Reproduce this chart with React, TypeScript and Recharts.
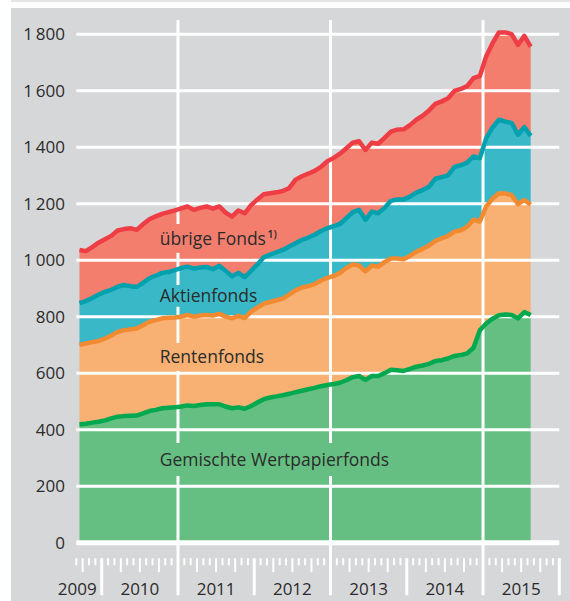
import React from 'react';
import {
  ComposedChart,
  Area,
  Line,
  XAxis,
  YAxis,
  ReferenceLine,
  ReferenceArea,
} from 'recharts';

// Vermögen der Investmentfonds nach Fondsart, Mrd Euro
// Monatswerte von September 2009 bis August 2015

const FONT = "'Open Sans', 'Noto Sans', sans-serif";
const TEXT = '#2b2b2b';
const PANEL = '#d6d7d9';

const START_YEAR = 2009;
const START_MONTH = 9; // erster Monatswert
const AXIS_MONTHS = 76; // Achse bis Ende 2015
const FIRST_JAN = 13 - START_MONTH; // Index des 1. Januar 2010

const years = ['2009', '2010', '2011', '2012', '2013', '2014', '2015'];
const gridYears = [2011, 2013, 2015];
const yTicks = [0, 200, 400, 600, 800, 1000, 1200, 1400, 1600, 1800];

const gemischte = [
  419, 421, 425, 428, 433, 440, 446, 448, 449, 450, 458, 466,
  470, 476, 478, 479, 482, 486, 484, 487, 490, 490, 490, 482,
  476, 479, 474, 484, 496, 508, 514, 518, 522, 527, 533, 538,
  543, 548, 554, 558, 562, 566, 575, 586, 590, 576, 590, 590,
  600, 612, 610, 608, 615, 623, 627, 633, 643, 646, 652, 661,
  664, 670, 690, 752, 776, 793, 805, 808, 806, 794, 816, 806,
];
const renten = [
  281, 284, 285, 286, 289, 293, 300, 304, 306, 308, 312, 316,
  318, 318, 318, 318, 318, 320, 316, 317, 316, 314, 320, 318,
  318, 324, 321, 334, 336, 338, 338, 340, 342, 351, 360, 365,
  365, 367, 374, 379, 382, 389, 397, 399, 391, 384, 391, 387,
  393, 394, 396, 395, 400, 407, 413, 419, 425, 431, 434, 440,
  442, 448, 453, 385, 414, 425, 432, 428, 424, 404, 397, 390,
];
const aktien = [
  148, 150, 156, 164, 166, 162, 160, 160, 153, 147, 150, 154,
  157, 161, 162, 168, 172, 171, 170, 170, 170, 164, 170, 162,
  149, 152, 145, 144, 153, 164, 168, 170, 172, 170, 167, 169,
  172, 175, 175, 176, 176, 173, 177, 185, 197, 183, 191, 189,
  192, 204, 209, 212, 210, 209, 208, 208, 220, 217, 214, 229,
  230, 227, 224, 224, 242, 252, 260, 254, 256, 246, 258, 244,
];
const uebrige = [
  188, 177, 180, 184, 186, 191, 199, 198, 205, 202, 207, 209,
  210, 209, 212, 211, 211, 213, 208, 211, 214, 214, 210, 206,
  211, 221, 226, 233, 230, 223, 217, 212, 209, 207, 225, 225,
  226, 226, 227, 237, 242, 249, 247, 246, 243, 247, 244, 246,
  248, 245, 247, 248, 253, 258, 263, 270, 265, 268, 273, 269,
  270, 271, 277, 291, 290, 298, 309, 316, 314, 318, 323, 316,
];

const colors = {
  gemischte: { fill: '#66bf82', line: '#00a94f' },
  renten: { fill: '#f8b173', line: '#f28a32' },
  aktien: { fill: '#39b9c7', line: '#00a1ae' },
  uebrige: { fill: '#f37e6d', line: '#ee3d45' },
};

const monthName = (i: number) => {
  const m = START_MONTH - 1 + i;
  return `${START_YEAR + Math.floor(m / 12)}-${String((m % 12) + 1).padStart(2, '0')}`;
};

const rows = gemischte.map((g, i) => {
  const rTop = g + renten[i];
  const aTop = rTop + aktien[i];
  const uTop = aTop + uebrige[i];
  return {
    t: i + 0.5,
    month: monthName(i),
    gemischte: g,
    renten: renten[i],
    aktien: aktien[i],
    uebrige: uebrige[i],
    gTop: g,
    rTop,
    aTop,
    uTop,
  };
});

const monthTicks = Array.from({ length: AXIS_MONTHS + 1 }, (_, i) => i);
const gridMonths = gridYears.map((yr) => FIRST_JAN + (yr - (START_YEAR + 1)) * 12);

// Beschriftungen in den Flächen (Kasten in Flächenfarbe unterbricht das Gitter)
const areaLabels = [
  { text: 'übrige Fonds', sup: '1)', t1: 12.5, t2: 31.6, v1: 1026, v2: 1128, fill: colors.uebrige.fill },
  { text: 'Aktienfonds', t1: 12.5, t2: 28.7, v1: 835, v2: 912, fill: colors.aktien.fill },
  { text: 'Rentenfonds', t1: 12.5, t2: 29.7, v1: 608, v2: 707, fill: colors.renten.fill },
  { text: 'Gemischte Wertpapierfonds', t1: 12.5, t2: 49.4, v1: 236, v2: 353, fill: colors.gemischte.fill },
];

const formatY = (v: number) =>
  v >= 1000 ? `${Math.floor(v / 1000)}\u2009${String(v % 1000).padStart(3, '0')}` : String(v);

const MonthTick = (props: any) => {
  const { x, y, payload } = props;
  const m: number = payload.value;
  const k = m - FIRST_JAN;
  const isYear = k % 12 === 0;
  const isQuarter = k % 3 === 0;
  const y1 = gridMonths.includes(m) ? y : y + 15.5;
  const y2 = isYear ? y + 52.5 : isQuarter ? y + 29.5 : y + 22.5;
  let label = null;
  if (m === FIRST_JAN) {
    label = (
      <text x={x - 5} y={y + 52.3} textAnchor="end" fill={TEXT} fontSize={17} fontFamily={FONT}>
        {years[0]}
      </text>
    );
  } else if (k > 0 && (k - 6) % 12 === 0) {
    label = (
      <text x={x} y={y + 52.3} textAnchor="middle" fill={TEXT} fontSize={17} fontFamily={FONT}>
        {years[(k - 6) / 12 + 1]}
      </text>
    );
  }
  return (
    <g>
      <line x1={x} x2={x} y1={y1} y2={y2} stroke="#fff" strokeWidth={isYear ? 3 : 2} />
      {label}
    </g>
  );
};

const labelShape = (lab: (typeof areaLabels)[number]) => (props: any) => {
  const { x, y, width, height } = props;
  const base = y + height / 2 + 6.3;
  return (
    <g>
      <rect x={x} y={y} width={width} height={height} fill={lab.fill} />
      <text x={x + 4} y={base} fill={TEXT} fontSize={17.5} fontFamily={FONT}>
        <tspan>{lab.text}</tspan>
        {lab.sup ? (
          <tspan dx={1.5} dy={-7} fontSize={10.5} fontWeight={600}>
            {lab.sup}
          </tspan>
        ) : null}
      </text>
    </g>
  );
};

// deckungsgleiche Ebenen: Flächen, Gitter, Beschriftung, Linien + Achsen
const CHART = { width: 570, height: 601, margin: { top: 20, right: 10.7, bottom: 0, left: 0 } };
const layer: React.CSSProperties = { position: 'absolute', left: 0, top: 0 };

const hiddenX = (
  <XAxis
    type="number"
    dataKey="t"
    domain={[0, AXIS_MONTHS]}
    allowDataOverflow
    ticks={monthTicks}
    interval={0}
    height={58.3}
    tick={false}
    tickLine={false}
    axisLine={false}
  />
);
const hiddenY = (
  <YAxis
    type="number"
    domain={[0, 1850]}
    allowDataOverflow
    ticks={yTicks}
    interval={0}
    width={76.3}
    tick={false}
    tickLine={false}
    axisLine={false}
  />
);

const App: React.FC = () => {
  return (
    <div
      style={{ position: 'absolute', left: 0, top: 0, width: 570, height: 601, background: '#fff', overflow: 'hidden' }}
    >
      <div style={{ position: 'absolute', left: 11, top: 0, width: 559, height: 2, background: '#e4e4e5' }} />
      <div style={{ position: 'absolute', left: 11, top: 8, width: 559, height: 593, background: PANEL }} />

      <div style={layer}>
        <ComposedChart {...CHART} data={rows}>
          {hiddenX}
          {hiddenY}
          <Area type="linear" dataKey="gemischte" stackId="fonds" stroke="none" fill={colors.gemischte.fill} fillOpacity={1} isAnimationActive={false} />
          <Area type="linear" dataKey="renten" stackId="fonds" stroke="none" fill={colors.renten.fill} fillOpacity={1} isAnimationActive={false} />
          <Area type="linear" dataKey="aktien" stackId="fonds" stroke="none" fill={colors.aktien.fill} fillOpacity={1} isAnimationActive={false} />
          <Area type="linear" dataKey="uebrige" stackId="fonds" stroke="none" fill={colors.uebrige.fill} fillOpacity={1} isAnimationActive={false} />
        </ComposedChart>
      </div>

      <div style={layer}>
        <ComposedChart {...CHART} data={rows}>
          {hiddenX}
          {hiddenY}
          {yTicks
            .filter((v) => v > 0)
            .map((v) => (
              <ReferenceLine key={`h${v}`} y={v} stroke="#fff" strokeWidth={3} ifOverflow="visible" />
            ))}
          {gridMonths.map((m) => (
            <ReferenceLine key={`v${m}`} x={m} stroke="#fff" strokeWidth={3} ifOverflow="visible" />
          ))}
        </ComposedChart>
      </div>

      <div style={layer}>
        <ComposedChart {...CHART} data={rows}>
          {hiddenX}
          {hiddenY}
          {areaLabels.map((lab) => (
            <ReferenceArea
              key={lab.text}
              x1={lab.t1}
              x2={lab.t2}
              y1={lab.v1}
              y2={lab.v2}
              fill={lab.fill}
              fillOpacity={1}
              stroke="none"
              ifOverflow="visible"
              shape={labelShape(lab)}
            />
          ))}
        </ComposedChart>
      </div>

      <div style={layer}>
        <ComposedChart {...CHART} data={rows} style={{ fontFamily: FONT }}>
          <XAxis
            type="number"
            dataKey="t"
            domain={[0, AXIS_MONTHS]}
            ticks={monthTicks}
            interval={0}
            height={58.3}
            tickSize={0}
            tickMargin={0}
            tickLine={false}
            axisLine={{ stroke: '#fff', strokeWidth: 5 }}
            tick={<MonthTick />}
          />
          <YAxis
            type="number"
            domain={[0, 1850]}
            ticks={yTicks}
            interval={0}
            width={76.3}
            tickSize={0}
            tickMargin={11.3}
            axisLine={false}
            tickLine={false}
            tickFormatter={formatY}
            tick={{ fill: TEXT, fontSize: 17, fontFamily: FONT }}
          />
          <Line type="linear" dataKey="gTop" stroke={colors.gemischte.line} strokeWidth={4.5} dot={false} activeDot={false} strokeLinejoin="round" isAnimationActive={false} />
          <Line type="linear" dataKey="rTop" stroke={colors.renten.line} strokeWidth={4.5} dot={false} activeDot={false} strokeLinejoin="round" isAnimationActive={false} />
          <Line type="linear" dataKey="aTop" stroke={colors.aktien.line} strokeWidth={4.5} dot={false} activeDot={false} strokeLinejoin="round" isAnimationActive={false} />
          <Line type="linear" dataKey="uTop" stroke={colors.uebrige.line} strokeWidth={4.5} dot={false} activeDot={false} strokeLinejoin="round" isAnimationActive={false} />
        </ComposedChart>
      </div>
    </div>
  );
};

export default App;
